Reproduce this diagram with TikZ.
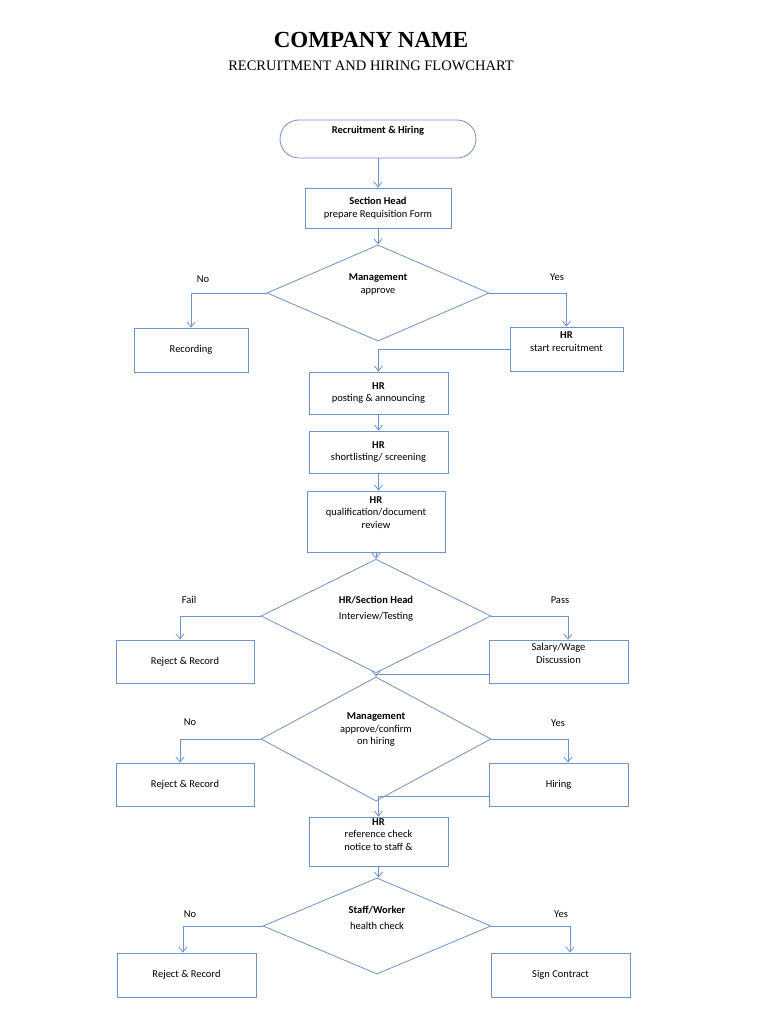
\documentclass[tikz,border=0pt]{standalone}
\usepackage{fontspec}
\setmainfont{Carlito}
\newfontfamily\ttl{Liberation Serif}
\usetikzlibrary{shapes.geometric,arrows.meta}
\definecolor{ln}{HTML}{6F93C6}
\begin{document}
\begin{tikzpicture}[x=1pt,y=-1pt,
  box/.style={draw=ln,line width=0.8pt,inner sep=0pt,align=center,font=\fontsize{10.5}{12.5}\selectfont},
  dia/.style={draw=ln,line width=0.8pt,diamond,inner sep=0pt,align=center,font=\fontsize{10.5}{12.5}\selectfont},
  arr/.style={draw=ln,line width=0.8pt,-{Straight Barb[length=5pt,width=8pt]}},
  lab/.style={font=\fontsize{10.5}{12.5}\selectfont}]
\useasboundingbox (0,0) rectangle (768,1024);
\fill[white] (0,0) rectangle (768,1024);
\node[font=\ttl\bfseries\fontsize{23}{26}\selectfont] (t1) at (371,40) {COMPANY NAME};
\node[font=\ttl\fontsize{14.5}{16}\selectfont] (t2) at (371,66) {RECRUITMENT AND HIRING FLOWCHART};
\node[box,rounded corners=19pt,minimum width=196,minimum height=38] (start) at (378,139) {\textbf{Recruitment \& Hiring}\\[6pt]};
\node[box,minimum width=146,minimum height=40] (sec) at (378,208) {\textbf{Section Head}\\prepare Requisition Form};
\node[dia,minimum width=222,minimum height=81] (d1) at (378,293) {\textbf{Management}\\approve\\[6pt]};
\node[box,minimum width=114,minimum height=44] (rec) at (191,350) {Recording};
\node[box,minimum width=113,minimum height=44] (hrs) at (566.5,349) {\textbf{HR}\\start recruitment\\[2pt]};
\node[box,minimum width=139,minimum height=42] (post) at (378.5,393) {\textbf{HR}\\posting \& announcing};
\node[box,minimum width=139,minimum height=42] (short) at (378.5,452) {\textbf{HR}\\shortlisting/ screening};
\node[box,minimum width=138,minimum height=61] (qual) at (376,521.5) {\textbf{HR}\\qualification/document\\review\\[6pt]};
\node[dia,minimum width=230,minimum height=91] (d2) at (376,616) {\textbf{HR/Section Head}\\[3pt]Interview/Testing\\[4pt]};
\node[box,minimum width=138,minimum height=43] (rj1) at (185,661.5) {Reject \& Record};
\node[box,minimum width=139,minimum height=43] (sal) at (558.5,661.5) {Salary/Wage\\Discussion\\[4pt]};
\node[dia,minimum width=230,minimum height=90] (d3) at (376,739) {\textbf{Management}\\approve/confirm\\on hiring\\[8pt]};
\node[box,minimum width=138,minimum height=43] (rj2) at (185,784.5) {Reject \& Record};
\node[box,minimum width=139,minimum height=43] (hir) at (558.5,784.5) {Hiring};
\node[box,minimum width=139,minimum height=49] (ref) at (378.5,841.5) {\textbf{HR}\\reference check\\notice to staff \&\\[2pt]};
\node[dia,minimum width=228,minimum height=88] (d4) at (377,926) {\textbf{Staff/Worker}\\[3pt]health check\\[4pt]};
\node[box,minimum width=139,minimum height=44] (rj3) at (186.5,975) {Reject \& Record};
\node[box,minimum width=139,minimum height=44] (sign) at (560.5,975) {Sign Contract};
\draw[arr] (start) -- (sec);
\draw[arr] (sec) -- (d1);
\draw[arr] (d1.west) -| (rec.north);
\draw[arr] (d1.east) -| (hrs.north);
\draw[arr] (hrs.west) -| (post.north);
\draw[arr] (post) -- (short);
\draw[arr] (short.south) -- (short.south |- qual.north);
\draw[arr] (qual.south) -- (d2.north);
\draw[arr] (d2.west) -| (rj1.north -| 180,0);
\draw[arr] (d2.east) -| (sal.north -| 568,0);
\draw[arr] (sal.west |- 0,674) -| (d3.north);
\draw[arr] (d3.west) -| (rj2.north -| 180,0);
\draw[arr] (d3.east) -| (hir.north -| 568,0);
\draw[arr] (hir.west |- 0,796) -| (ref.north);
\draw[arr] (ref.south) -- (ref.south |- d4.north);
\draw[arr] (d4.west) -| (rj3.north -| 183,0);
\draw[arr] (d4.east) -| (sign.north -| 570,0);
\node[lab] (l1) at (203,279) {No};
\node[lab] (l2) at (557,277) {Yes};
\node[lab] (l3) at (189,600) {Fail};
\node[lab] (l4) at (560,600) {Pass};
\node[lab] (l5) at (190,722) {No};
\node[lab] (l6) at (558,723) {Yes};
\node[lab] (l7) at (190,914) {No};
\node[lab] (l8) at (561,914) {Yes};
\end{tikzpicture}
\end{document}
